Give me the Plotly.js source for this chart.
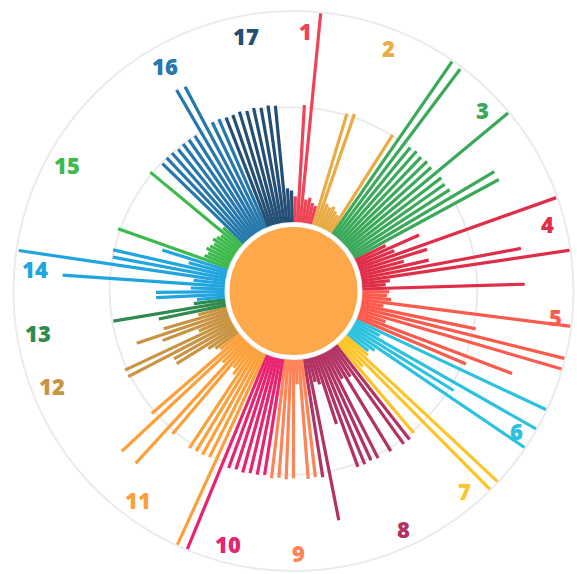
<!DOCTYPE html>
<html>
<head>
<meta charset="utf-8">
<script src="https://cdn.plot.ly/plotly-3.0.1.min.js"></script>
<style>html,body{margin:0;padding:0;background:#fff;}#chart{width:577px;height:574px;}</style>
</head>
<body>
<div id="chart"></div>
<script>
// ---- data ----
const goalLabels = ['1','2','3','4','5','6','7','8','9','10','11','12','13','14','15','16','17'];
const goal1  = [23, 102, 183, 21, 23, 19, 17];
const goal2  = [101, 103, 22, 20, 22, 19, 17, 101];
const goal3  = [182, 181, 101, 102, 101, 102, 101, 182, 102, 101, 102, 143, 143];
const goal4  = [30, 60, 35, 182, 62, 40, 61, 141, 183, 25, 21, 141];
const goal5  = [24, 22, 26, 183, 20, 102, 183, 183, 25, 143, 103];
const goal6  = [183, 25, 183, 104, 183, 28, 24];
const goal7  = [26, 183, 183, 30, 102];
const goal8  = [104, 104, 30, 103, 28, 103, 102, 103, 103, 62, 25, 22, 143, 104];
const goal9  = [103, 104, 22, 103, 104, 103, 104];
const goal10 = [102, 103, 103, 104, 103, 104, 183];
const goal11 = [183, 102, 103, 103, 104, 30, 25, 103, 143, 28, 144, 103, 22];
const goal12 = [25, 30, 60, 60, 102, 102, 30, 62, 84, 58, 26];
const goal13 = [60, 99, 28];
const goal14 = [25, 60, 60, 30, 141, 28, 181, 100, 101, 35, 60];
const goal15 = [102, 24, 22, 25, 23, 21, 24, 22, 20, 102, 23];
const goal16 = [99, 100, 100, 99, 100, 100, 100, 142, 141, 103, 103];
const goal17 = [102, 102, 103, 102, 103, 102, 103, 102, 30, 28];
const goals = [goal1, goal2, goal3, goal4, goal5, goal6, goal7, goal8, goal9,
               goal10, goal11, goal12, goal13, goal14, goal15, goal16, goal17];

// ---- styles / placement ----
const goalColors = ['#EF4457','#E9AC45','#3BA95A','#DF2E47','#FC5A4C','#2DC1E0','#FDC428',
                    '#B23263','#FC8456','#E6246F','#FCA03C','#C99442','#2E8A4F','#21A5DE',
                    '#3DB94D','#2678AC','#234F74'];
const labelAngles = [2.2, 20.8, 45.8, 75, 95.4, 122.3, 139.7, 155.5, 179.3, 195, 217, 249, 261, 275, 299, 330, 349];
const LABEL_PX = 261;
const R_MAX = 183;

const total = goals.reduce((s, g) => s + g.length, 0);
const step = 360 / total;

const traces = [];
let idx = 0;
goals.forEach((vals, gi) => {
  const r = [], th = [];
  vals.forEach(v => {
    const t = (idx + 0.5) * step;
    r.push(0, v, null);
    th.push(t, t, null);
    idx++;
  });
  traces.push({
    type: 'scatterpolar', mode: 'lines', r: r, theta: th,
    line: {color: goalColors[gi], width: 3.2}, hoverinfo: 'skip', connectgaps: false
  });
});

const W = 577, H = 574, CX = 293.5, CY = 291, R = 280, RC = 66;

const annotations = goalLabels.map((lab, i) => {
  const a = labelAngles[i] * Math.PI / 180;
  return {
    xref: 'paper', yref: 'paper', showarrow: false,
    x: (CX + 2 + LABEL_PX * Math.sin(a)) / W,
    y: 1 - (CY + 1 - LABEL_PX * Math.cos(a)) / H,
    xanchor: 'center', yanchor: 'middle',
    text: lab,
    font: {family: 'Open Sans, Lato, sans-serif', size: 22, color: goalColors[i], weight: 800}
  };
});

const layout = {
  width: W, height: H,
  margin: {l: 0, r: 0, t: 0, b: 0, pad: 0},
  paper_bgcolor: '#ffffff',
  showlegend: false,
  polar: {
    domain: {x: [(CX - R) / W, (CX + R) / W], y: [1 - (CY + R) / H, 1 - (CY - R) / H]},
    hole: 68 / 280,
    bgcolor: 'rgba(0,0,0,0)',
    radialaxis: {range: [0, R_MAX], tickvals: [100], showticklabels: false, ticks: '',
                 showline: false, gridcolor: '#ebebeb', gridwidth: 2},
    angularaxis: {rotation: 90, direction: 'clockwise', thetaunit: 'degrees',
                  showgrid: false, showticklabels: false, ticks: '',
                  showline: true, linecolor: '#ebebeb', linewidth: 2}
  },
  annotations: annotations,
  shapes: [{
    type: 'circle', xref: 'paper', yref: 'paper', layer: 'above',
    x0: (CX - RC) / W, x1: (CX + RC) / W,
    y0: 1 - (CY + RC) / H, y1: 1 - (CY - RC) / H,
    fillcolor: '#FDA94B', line: {color: '#ffffff', width: 4}
  }]
};

Plotly.newPlot('chart', traces, layout, {staticPlot: true, displayModeBar: false});
</script>
</body>
</html>
